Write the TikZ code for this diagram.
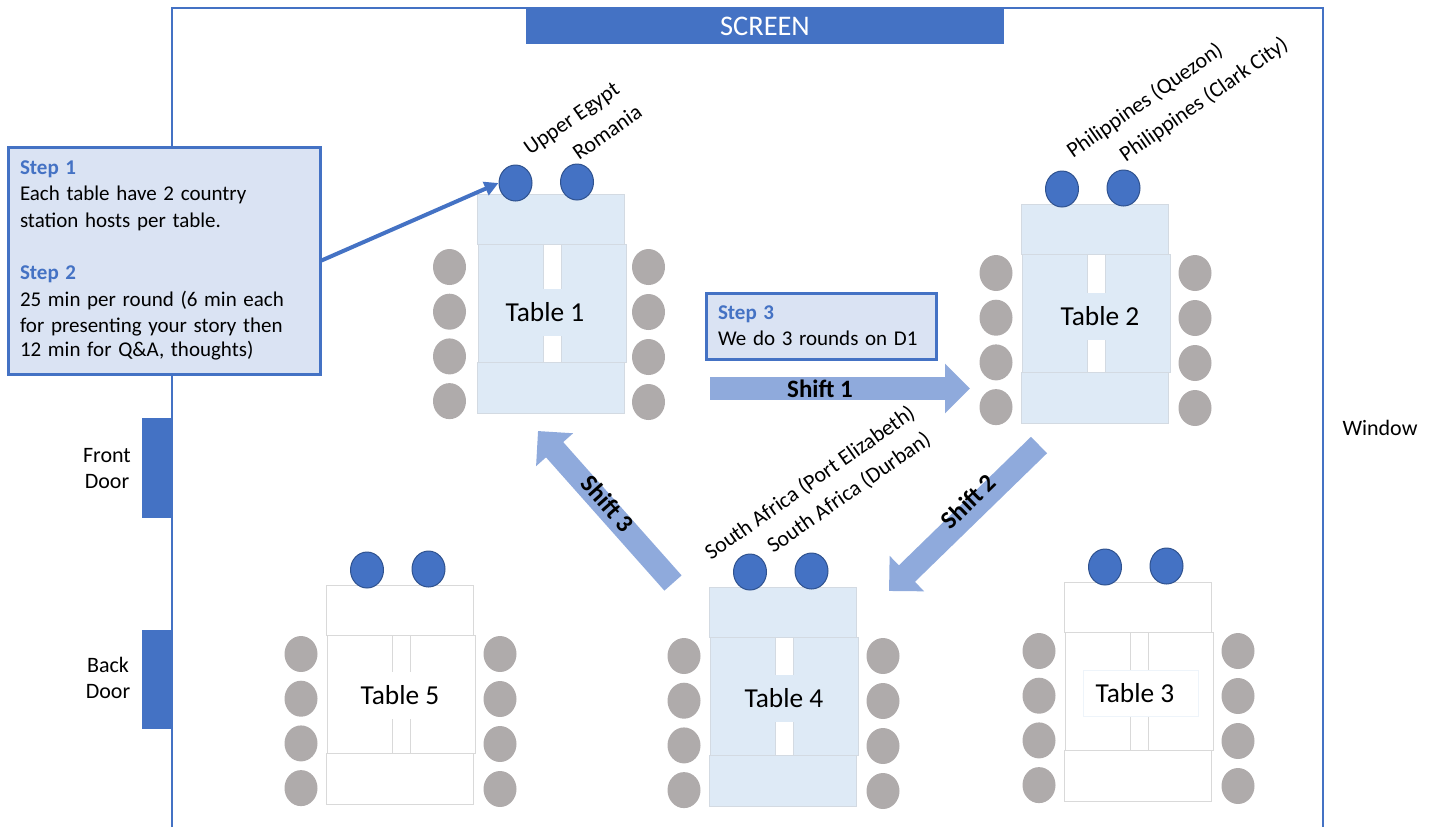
\documentclass[tikz,border=0pt]{standalone}
\usepackage{fontspec}
\setmainfont{Carlito}
\usetikzlibrary{arrows.meta,shapes.geometric}
\definecolor{planblue}{HTML}{4472C4}
\definecolor{hostline}{HTML}{2F528F}
\definecolor{chairgrey}{HTML}{AFABAB}
\definecolor{tableblue}{HTML}{DEEAF6}
\definecolor{tableedge}{HTML}{D3DAE2}
\definecolor{whiteedge}{HTML}{D9D9D9}
\definecolor{boxblue}{HTML}{DAE3F3}
\definecolor{shiftblue}{HTML}{8FAADC}
\tikzset{
  chair/.style={ellipse,fill=chairgrey,inner sep=0pt,minimum width=16.5pt,minimum height=18pt},
  host/.style={ellipse,fill=planblue,draw=hostline,line width=0.5pt,inner sep=0pt,minimum width=16.5pt,minimum height=18pt},
  stepbox/.style={draw=planblue,fill=boxblue,line width=1.5pt,align=left,inner sep=0pt},
  country/.style={rotate=35,font=\fontsize{11}{13}\selectfont},
  plainlabel/.style={font=\fontsize{11}{13}\selectfont,inner sep=0pt},
  shiftarrow/.style={draw=shiftblue,line width=11.5pt,-{Triangle[length=12.5pt,width=24pt]}},
  shiftlabel/.style={font=\fontsize{12.5}{15}\selectfont\bfseries,sloped,inner sep=0pt}
}
\begin{document}
\begin{tikzpicture}[x=0.5pt,y=-0.5pt]
  \useasboundingbox (0,0) rectangle (1435,827);
  \draw [planblue,line width=0.6pt] (172,827) -- (172,8) -- (1323,8) -- (1323,827);
  \fill [planblue] (526,8) rectangle (1004,44);
  \node [text=white,font=\fontsize{14.2}{16}\selectfont,inner sep=0pt] (screen) at (765,26) {SCREEN};
  \fill [planblue] (142,418) rectangle (172,518);
  \fill [planblue] (142,630) rectangle (172,729);
  \node [plainlabel,align=center] (frontdoor) at (107,469) {Front\\Door};
  \node [plainlabel,align=center] (backdoor) at (108,678) {Back\\Door};
  \node [plainlabel] (window) at (1380,428) {Window};
  \foreach \tnum/\tx/\ty/\ox/\oy/\lx/\ly/\tfill/\tedge/\lbox in {
      1/477/194/-2.5/4/68/118/tableblue/tableedge/tableblue,
      2/1021/204/0/0/79/112/tableblue/tableedge/tableblue,
      3/1064/582/0/0/71/111/white/whiteedge/tableblue!50,
      4/709/587/0/0/75/111/tableblue/tableedge/tableblue,
      5/326/585/0/0/74/110/white/whiteedge/white} {
    \draw [fill=\tfill,draw=\tedge,line width=0.5pt] (\tx,\ty) rectangle (\tx+147,\ty+50);
    \draw [fill=\tfill,draw=\tedge,line width=0.5pt] (\tx+1,\ty+50) rectangle (\tx+149,\ty+168);
    \draw [fill=white,draw=\tedge,line width=0.5pt] (\tx+66,\ty+50) rectangle (\tx+84,\ty+168);
    \draw [fill=\tfill,draw=\lbox,line width=0.4pt] (\tx+19,\ty+\ly-23) rectangle (\tx+134,\ty+\ly+23);
    \draw [fill=\tfill,draw=\tedge,line width=0.5pt] (\tx,\ty+168) rectangle (\tx+147,\ty+219);
    \node [font=\fontsize{13.7}{16}\selectfont,inner sep=0pt] (table\tnum) at (\tx+\lx,\ty+\ly) {Table \tnum};
    \node [host] (host\tnum a) at (\tx+\ox+41,\ty+\oy-15) {};
    \node [host] (host\tnum b) at (\tx+\ox+102.5,\ty+\oy-16) {};
    \foreach \row in {0,1,2,3} {
      \node [chair] (chair\tnum l\row) at (\tx+\ox-25,\ty+\oy+69+44.7*\row) {};
      \node [chair] (chair\tnum r\row) at (\tx+\ox+174,\ty+\oy+69+45*\row) {};
    }
  }
  \node [country] (egypt) at (572.5,120) {Upper Egypt};
  \node [country] (romania) at (607,132) {Romania};
  \node [country] (quezon) at (1145,101) {Philippines (Quezon)};
  \node [country] (clark) at (1204,100) {Philippines (Clark City)};
  \node [country] (elizabeth) at (810,483) {South Africa (Port Elizabeth)};
  \node [country] (durban) at (849,493) {South Africa (Durban)};
  \node [stepbox,minimum width=156pt,minimum height=113.5pt,text width=144pt] (stepa) at (164,260.5)
    {\fontsize{10.5}{13.15}\selectfont{\color{planblue}\bfseries Step 1}\\Each table have 2 country\\station hosts per table.\\\mbox{}\\{\color{planblue}\bfseries Step 2}\\25 min per round (6 min each\\for presenting your story then\\12 min for Q\&A, thoughts)};
  \node [stepbox,minimum width=115pt,minimum height=33pt,text width=103pt] (stepb) at (821,326)
    {\fontsize{10.5}{13.15}\selectfont{\color{planblue}\bfseries Step 3}\\[1pt]We do 3 rounds on D1};
  \draw [planblue,line width=2pt,-{Triangle[length=7pt,width=7pt]}] (stepa.east) -- (host1a.west);
  \coordinate (shiftastart) at (710,388.5);
  \coordinate (shiftaend) at (970,388.5);
  \coordinate (shiftbstart) at (1039,445);
  \coordinate (shiftbend) at (889,591);
  \coordinate (shiftcstart) at (673,583);
  \coordinate (shiftcend) at (538,431);
  \draw [shiftarrow] (shiftastart) -- (shiftaend) node [shiftlabel,pos=0.423] (shifta) {Shift 1};
  \draw [shiftarrow] (shiftbstart) -- (shiftbend) node [shiftlabel,pos=0.43,yshift=4.4pt] (shiftb) {Shift 2};
  \draw [shiftarrow] (shiftcstart) -- (shiftcend) node [shiftlabel,pos=0.505,yshift=2pt] (shiftc) {Shift 3};
\end{tikzpicture}
\end{document}
